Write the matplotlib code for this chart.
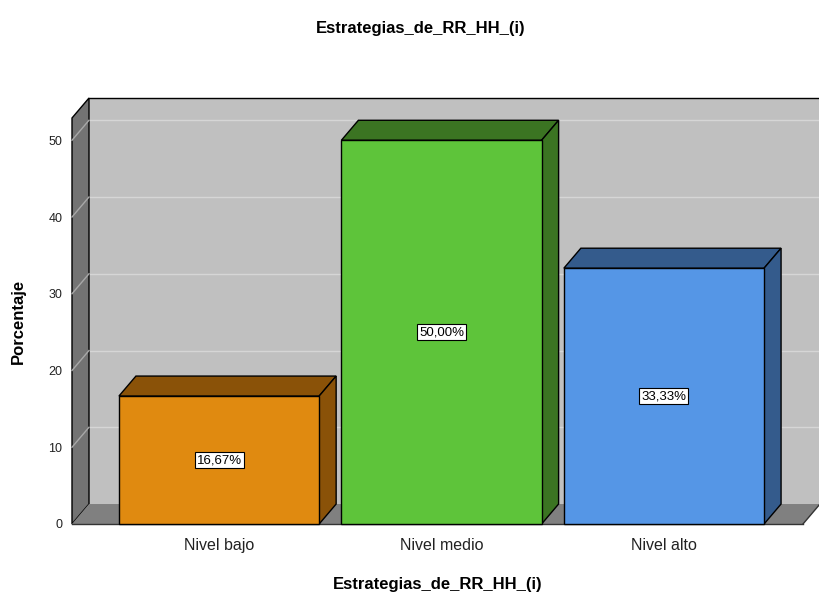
import matplotlib.pyplot as plt
from matplotlib.patches import Polygon, Rectangle

plt.rcParams['font.family'] = ['Liberation Sans', 'DejaVu Sans']

# datos
categorias = ['Nivel bajo', 'Nivel medio', 'Nivel alto']
porcentajes = [16.67, 50.00, 33.33]
etiquetas = ['16,67%', '50,00%', '33,33%']
ticks_y = [0, 10, 20, 30, 40, 50]

colores = ['#e08a10', '#5ec43a', '#5596e6']
oscuros = ['#8a5208', '#3b7422', '#345b8c']

fig = plt.figure(figsize=(8.2, 5.96), dpi=100)
ax = fig.add_axes([72 / 820, 72 / 596, (803 - 72) / 820, (524 - 118) / 596])

x0, x1 = -0.661, 2.625
ymax = 52.9
ax.set_xlim(x0, x1)
ax.set_ylim(0, ymax)

# profundidad 3D en unidades de datos
dx = 17 / 222.5
dy = 20 / 7.68
ancho = 0.9

# pared de fondo
ax.add_patch(Polygon([(x0 + dx, dy), (x1 + dx, dy), (x1 + dx, ymax + dy), (x0 + dx, ymax + dy)],
                     closed=True, fc='#c0c0c0', ec='none', clip_on=False, zorder=1))
# pared izquierda
ax.add_patch(Polygon([(x0, 0), (x0, ymax), (x0 + dx, ymax + dy), (x0 + dx, dy)],
                     closed=True, fc='#737373', ec='black', lw=1, clip_on=False, zorder=2))
# suelo
ax.add_patch(Polygon([(x0, 0), (x1, 0), (x1 + dx, dy), (x0 + dx, dy)],
                     closed=True, fc='#808080', ec='none', clip_on=False, zorder=2))
ax.plot([x0, x1], [0, 0], color='#333333', lw=1, clip_on=False, zorder=3)
ax.plot([x1, x1 + dx], [0, dy], color='#333333', lw=1, clip_on=False, zorder=3)
ax.plot([x0 + dx, x1 + dx], [ymax + dy, ymax + dy], color='black', lw=1, clip_on=False, zorder=3)

# lineas de cuadricula
for t in ticks_y[1:]:
    ax.plot([x0 + dx, x1 + dx], [t + dy, t + dy], color='#d6d6d6', lw=1, clip_on=False, zorder=1.5)
    ax.plot([x0, x0 + dx], [t, t + dy], color='#a8a8a8', lw=1, clip_on=False, zorder=2.5)

# barras 3D
for i, v in enumerate(porcentajes):
    izq = i - ancho / 2
    der = i + ancho / 2
    ax.add_patch(Polygon([(izq, v), (der, v), (der + dx, v + dy), (izq + dx, v + dy)],
                         closed=True, fc=oscuros[i], ec='black', lw=1, clip_on=False, zorder=4))
    ax.add_patch(Polygon([(der, 0), (der + dx, dy), (der + dx, v + dy), (der, v)],
                         closed=True, fc=oscuros[i], ec='black', lw=1, clip_on=False, zorder=4))
    ax.add_patch(Rectangle((izq, 0), ancho, v, fc=colores[i], ec='black', lw=1,
                           clip_on=False, zorder=5))
    ax.text(i, v / 2, etiquetas[i], ha='center', va='center', fontsize=9.5, zorder=6,
            bbox=dict(boxstyle='square,pad=0.15', fc='white', ec='black', lw=0.8))

for s in ax.spines.values():
    s.set_visible(False)
ax.set_xticks(range(len(categorias)))
ax.set_xticklabels(categorias, fontsize=11.5, color='#222222')
ax.set_yticks(ticks_y)
ax.tick_params(axis='y', length=0, pad=7, labelsize=9, labelcolor='#222222')
ax.tick_params(axis='x', length=0, pad=10)

ax.set_ylabel('Porcentaje', fontsize=12, fontweight='bold')
ax.yaxis.set_label_coords(-0.063, 0.5)
ax.set_xlabel('Estrategias_de_RR_HH_(i)', fontsize=12, fontweight='bold')
ax.xaxis.set_label_coords(0.5, -53 / 406)
fig.text(421 / 820, 1 - 28 / 596, 'Estrategias_de_RR_HH_(i)', ha='center', va='center',
         fontsize=12, fontweight='bold')

fig.savefig('out.png', dpi=100)
